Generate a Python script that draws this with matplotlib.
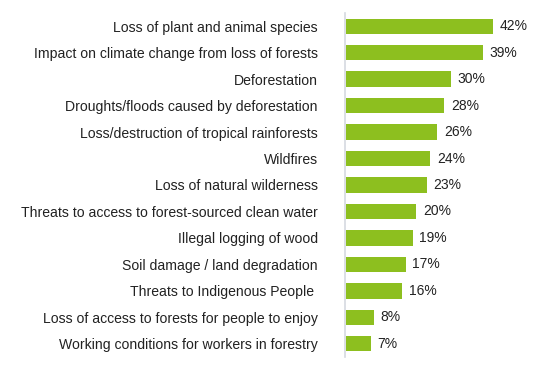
import matplotlib
matplotlib.use("Agg")
import matplotlib.pyplot as plt

categories = [
    "Loss of plant and animal species",
    "Impact on climate change from loss of forests",
    "Deforestation",
    "Droughts/floods caused by deforestation",
    "Loss/destruction of tropical rainforests",
    "Wildfires",
    "Loss of natural wilderness",
    "Threats to access to forest-sourced clean water",
    "Illegal logging of wood",
    "Soil damage / land degradation",
    "Threats to Indigenous People ",
    "Loss of access to forests for people to enjoy",
    "Working conditions for workers in forestry",
]
values = [42, 39, 30, 28, 26, 24, 23, 20, 19, 17, 16, 8, 7]

plt.rcParams['font.family'] = ['Liberation Sans', 'DejaVu Sans']

fig = plt.figure(figsize=(5.43, 3.70), dpi=100)
# axes placed so the baseline sits where the reference one is
ax = fig.add_axes([345 / 543, 1 - 357 / 370, 1 - 345 / 543, 344 / 370])

pos = list(range(len(categories)))
ax.barh(pos, values, height=0.58, color="#8DBF1F", left=0.3)
ax.set_ylim(len(categories) - 0.5, -0.5)
ax.set_xlim(0, 56.5)

for p, v in zip(pos, values):
    ax.text(v + 2.2, p, f"{v}%", va="center", ha="left", fontsize=10, color="#222222")

ax.set_yticks(pos)
ax.set_yticklabels(categories, fontsize=10.1, color="#222222")
ax.tick_params(axis="y", length=0, pad=19.5)
ax.set_xticks([])
for s in ["top", "right", "bottom"]:
    ax.spines[s].set_visible(False)
ax.spines["left"].set_color("#D5D9E0")
ax.spines["left"].set_linewidth(1.2)

fig.savefig("out.png", dpi=100)
